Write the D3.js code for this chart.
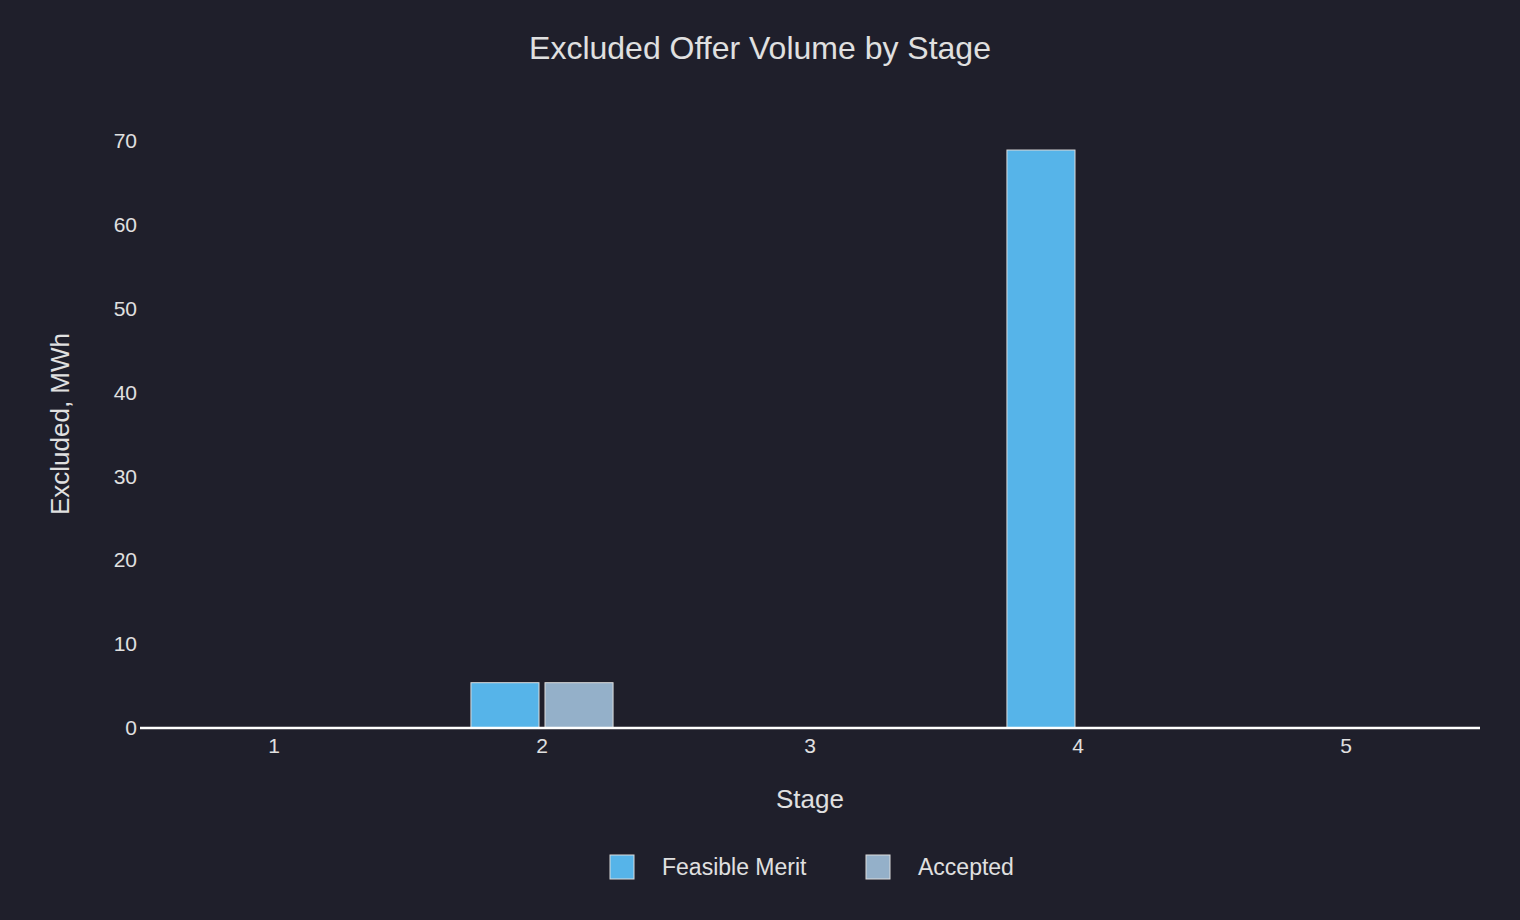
<!DOCTYPE html>
<html><head><meta charset="utf-8">
<script src="https://cdn.jsdelivr.net/npm/d3@7"></script>
<style>body{margin:0;background:#1f1f2b}text{font-family:"Liberation Sans","DejaVu Sans",sans-serif;fill:#e0e0e0}</style>
</head><body>
<script>
const stages = ['1', '2', '3', '4', '5'];
const seriesNames = ['Feasible Merit', 'Accepted'];
const feasibleMerit = [0, 5.4, 0, 68.9, 0];
const accepted = [0, 5.4, 0, 0, 0];
const yTicks = [0, 10, 20, 30, 40, 50, 60, 70];
const colors = ['#56b4e9', '#94b0c9'];

const width = 1520, height = 920;
const m = { left: 140, right: 1480, top: 119, bottom: 728 };
const svg = d3.select('body').append('svg').attr('width', width).attr('height', height);
svg.append('rect').attr('width', width).attr('height', height).attr('fill', '#1f1f2b');

const x = d3.scaleBand().domain(stages).range([m.left, m.right]);
const xs = d3.scaleBand().domain(seriesNames).range([0, x.bandwidth()]).paddingInner(0.081).paddingOuter(0.85);
const y = d3.scaleLinear().domain([0, 72.6]).range([m.bottom, m.top]);

const yAxis = svg.append('g').attr('transform', `translate(${m.left},0)`)
  .call(d3.axisLeft(y).tickValues(yTicks).tickSize(0).tickPadding(3));
yAxis.select('.domain').remove();
yAxis.selectAll('text').style('font-size', '21px');

[feasibleMerit, accepted].forEach((vals, i) => {
  svg.append('g').selectAll('rect')
    .data(vals.map((v, j) => ({ stage: stages[j], v })).filter(d => d.v > 0))
    .join('rect')
    .attr('x', d => x(d.stage) + xs(seriesNames[i]))
    .attr('width', xs.bandwidth())
    .attr('y', d => y(d.v)).attr('height', d => y(0) - y(d.v))
    .attr('fill', colors[i]).attr('stroke', '#dcdcdc').attr('stroke-width', 1);
});

svg.append('line').attr('x1', m.left).attr('x2', m.right).attr('y1', y(0)).attr('y2', y(0))
  .attr('stroke', '#fff').attr('stroke-width', 2.5);

const xAxis = svg.append('g').attr('transform', `translate(0,${m.bottom})`)
  .call(d3.axisBottom(x).tickSize(0).tickPadding(10));
xAxis.select('.domain').remove();
xAxis.selectAll('text').style('font-size', '21px');

svg.append('text').attr('x', 760).attr('y', 59).attr('text-anchor', 'middle')
  .style('font-size', '32px').text('Excluded Offer Volume by Stage');
svg.append('text').attr('x', 810).attr('y', 808).attr('text-anchor', 'middle')
  .style('font-size', '26px').text('Stage');
svg.append('text').attr('transform', 'translate(69,424) rotate(-90)').attr('text-anchor', 'middle')
  .style('font-size', '26px').text('Excluded, MWh');

const legend = svg.append('g');
const lx = [610, 866];
seriesNames.forEach((n, i) => {
  legend.append('rect').attr('x', lx[i]).attr('y', 855).attr('width', 24).attr('height', 24)
    .attr('fill', colors[i]).attr('stroke', '#dcdcdc');
  legend.append('text').attr('x', lx[i] + 52).attr('y', 875).style('font-size', '23px').text(n);
});
</script>
</body></html>
